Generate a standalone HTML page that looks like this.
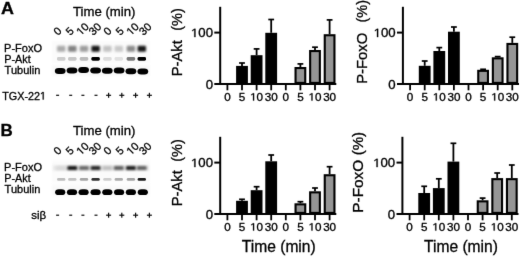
<!DOCTYPE html>
<html><head><meta charset="utf-8"><style>
html,body{margin:0;padding:0;background:#fff;}
body{width:520px;height:257px;overflow:hidden;}
svg{display:block;will-change:transform;}
text{font-family:"Liberation Sans", sans-serif;fill:#000;stroke:#000;stroke-width:0.3px;}
path{stroke:#000;stroke-width:0.3px;vector-effect:non-scaling-stroke;}
</style></head><body>
<svg width="520" height="257" viewBox="0 0 520 257">
<defs>
<filter id="bl" color-interpolation-filters="sRGB" x="-50%" y="-80%" width="200%" height="260%"><feGaussianBlur stdDeviation="0.9"/></filter>
<filter id="bl2" color-interpolation-filters="sRGB" x="-10%" y="-30%" width="120%" height="160%"><feGaussianBlur stdDeviation="1"/></filter>
<filter id="bl4" color-interpolation-filters="sRGB" x="-30%" y="-80%" width="160%" height="260%"><feGaussianBlur stdDeviation="0.5"/></filter>
<filter id="bl5" color-interpolation-filters="sRGB" x="-30%" y="-80%" width="160%" height="260%"><feGaussianBlur stdDeviation="0.85"/></filter>
<filter id="soft" color-interpolation-filters="sRGB" x="0" y="0" width="520" height="257" filterUnits="userSpaceOnUse"><feConvolveMatrix order="3" kernelMatrix="0.00524 0.06192 0.00524 0.06192 0.73137 0.06192 0.00524 0.06192 0.00524" edgeMode="duplicate"/></filter>
<filter id="bl3" color-interpolation-filters="sRGB" x="-30%" y="-60%" width="160%" height="220%"><feGaussianBlur stdDeviation="0.5"/></filter>
</defs>
<rect width="520" height="257" fill="#fff"/>
<g filter="url(#soft)">
<rect width="520" height="257" fill="#fff"/>
<text transform="translate(0.9,13.8) scale(1.12,1)" font-size="16" font-weight="bold">A</text>
<text transform="translate(0.4,135.9) scale(1.06,1)" font-size="16" font-weight="bold">B</text>
<g transform="translate(0,0)">
<text x="73" y="15.8" font-size="13.2">Time (min)</text>
<text transform="translate(58.00,36.0) rotate(-45)" font-size="11">0</text>
<text transform="translate(70.20,36.0) rotate(-45)" font-size="11">5</text>
<text transform="translate(80.90,36.0) rotate(-45)" font-size="11"> 0</text><path transform="translate(80.90,36.0) rotate(-45) translate(0.000,0.000) scale(0.005371,-0.005371)" d="M515 0L515 1237L197 1010L197 1180L530 1409L696 1409L696 0Z"/>
<text transform="translate(93.30,36.0) rotate(-45)" font-size="11">30</text>
<text transform="translate(108.00,36.0) rotate(-45)" font-size="11">0</text>
<text transform="translate(120.20,36.0) rotate(-45)" font-size="11">5</text>
<text transform="translate(131.00,36.0) rotate(-45)" font-size="11"> 0</text><path transform="translate(131.00,36.0) rotate(-45) translate(0.000,0.000) scale(0.005371,-0.005371)" d="M515 0L515 1237L197 1010L197 1180L530 1409L696 1409L696 0Z"/>
<text transform="translate(143.60,36.0) rotate(-45)" font-size="11">30</text>
<text x="4.1" y="51.5" font-size="11">P-FoxO</text>
<text x="4.3" y="62.6" font-size="10.8">P-Akt</text>
<text x="4.6" y="73.6" font-size="11">Tubulin</text>
<rect x="52" y="41" width="98" height="22" fill="#fbfbfb" filter="url(#bl2)"/>
<rect x="52" y="65" width="98" height="11" fill="#f9f9f9" filter="url(#bl2)"/>
<rect x="57.00" y="45.80" width="8.40" height="6.00" rx="1.20" fill="#ababab" filter="url(#bl)"/>
<rect x="68.10" y="45.80" width="8.40" height="6.00" rx="1.20" fill="#828282" filter="url(#bl)"/>
<rect x="79.80" y="45.80" width="8.40" height="6.00" rx="1.20" fill="#9c9c9c" filter="url(#bl)"/>
<rect x="91.40" y="45.80" width="8.40" height="6.00" rx="1.20" fill="#151515" filter="url(#bl)"/>
<rect x="103.20" y="45.80" width="8.40" height="6.00" rx="1.20" fill="#c2c2c2" filter="url(#bl)"/>
<rect x="114.60" y="45.80" width="8.40" height="6.00" rx="1.20" fill="#c9c9c9" filter="url(#bl)"/>
<rect x="126.70" y="45.80" width="8.40" height="6.00" rx="1.20" fill="#8c8c8c" filter="url(#bl)"/>
<rect x="137.60" y="45.80" width="8.40" height="6.00" rx="1.20" fill="#181818" filter="url(#bl)"/>
<rect x="57.00" y="56.90" width="8.40" height="3.80" rx="1.40" fill="#cdcdcd" filter="url(#bl4)"/>
<rect x="68.10" y="56.90" width="8.40" height="3.80" rx="1.40" fill="#c6c6c6" filter="url(#bl4)"/>
<rect x="79.80" y="56.90" width="8.40" height="3.80" rx="1.40" fill="#bcbcbc" filter="url(#bl4)"/>
<rect x="91.40" y="56.90" width="8.40" height="3.80" rx="1.40" fill="#000" filter="url(#bl4)"/>
<rect x="103.20" y="56.90" width="8.40" height="3.80" rx="1.40" fill="#dcdcdc" filter="url(#bl4)"/>
<rect x="114.60" y="56.90" width="8.40" height="3.80" rx="1.40" fill="#e2e2e2" filter="url(#bl4)"/>
<rect x="126.70" y="56.90" width="8.40" height="3.80" rx="1.40" fill="#7a7a7a" filter="url(#bl4)"/>
<rect x="137.60" y="56.90" width="8.40" height="3.80" rx="1.40" fill="#000" filter="url(#bl4)"/>
<rect x="54.80" y="67.90" width="10.80" height="6.00" rx="3.8" ry="3.00" fill="#000" filter="url(#bl3)"/>
<rect x="66.60" y="67.50" width="10.80" height="6.00" rx="3.8" ry="3.00" fill="#000" filter="url(#bl3)"/>
<rect x="78.20" y="67.10" width="10.80" height="6.00" rx="3.8" ry="3.00" fill="#000" filter="url(#bl3)"/>
<rect x="90.20" y="67.50" width="10.80" height="6.00" rx="3.8" ry="3.00" fill="#000" filter="url(#bl3)"/>
<rect x="101.90" y="67.70" width="10.80" height="6.00" rx="3.8" ry="3.00" fill="#000" filter="url(#bl3)"/>
<rect x="113.70" y="67.60" width="10.80" height="6.00" rx="3.8" ry="3.00" fill="#000" filter="url(#bl3)"/>
<rect x="125.50" y="68.30" width="10.80" height="6.00" rx="3.8" ry="3.00" fill="#000" filter="url(#bl3)"/>
<rect x="137.40" y="68.60" width="10.80" height="6.00" rx="3.8" ry="3.00" fill="#000" filter="url(#bl3)"/>
</g>
<text x="2.20" y="99.50" font-size="10.8">TGX-22 </text><path transform="translate(39.997,99.500) scale(0.005273,-0.005273)" d="M515 0L515 1237L197 1010L197 1180L530 1409L696 1409L696 0Z"/>
<rect x="56.10" y="94.70" width="3" height="1.2" fill="#111"/>
<rect x="69.20" y="94.70" width="3" height="1.2" fill="#111"/>
<rect x="81.40" y="94.70" width="3" height="1.2" fill="#111"/>
<rect x="94.50" y="94.70" width="3" height="1.2" fill="#111"/>
<rect x="106.10" y="94.70" width="5.0" height="1.2" fill="#111"/>
<rect x="108.00" y="92.80" width="1.2" height="5.0" fill="#111"/>
<rect x="119.30" y="94.70" width="5.0" height="1.2" fill="#111"/>
<rect x="121.20" y="92.80" width="1.2" height="5.0" fill="#111"/>
<rect x="133.10" y="94.70" width="5.0" height="1.2" fill="#111"/>
<rect x="135.00" y="92.80" width="1.2" height="5.0" fill="#111"/>
<rect x="146.90" y="94.70" width="5.0" height="1.2" fill="#111"/>
<rect x="148.80" y="92.80" width="1.2" height="5.0" fill="#111"/>
<g transform="translate(0,119.6)">
<text x="73" y="15.8" font-size="13.2">Time (min)</text>
<text transform="translate(58.00,36.0) rotate(-45)" font-size="11">0</text>
<text transform="translate(70.20,36.0) rotate(-45)" font-size="11">5</text>
<text transform="translate(80.90,36.0) rotate(-45)" font-size="11"> 0</text><path transform="translate(80.90,36.0) rotate(-45) translate(0.000,0.000) scale(0.005371,-0.005371)" d="M515 0L515 1237L197 1010L197 1180L530 1409L696 1409L696 0Z"/>
<text transform="translate(93.30,36.0) rotate(-45)" font-size="11">30</text>
<text transform="translate(108.00,36.0) rotate(-45)" font-size="11">0</text>
<text transform="translate(120.20,36.0) rotate(-45)" font-size="11">5</text>
<text transform="translate(131.00,36.0) rotate(-45)" font-size="11"> 0</text><path transform="translate(131.00,36.0) rotate(-45) translate(0.000,0.000) scale(0.005371,-0.005371)" d="M515 0L515 1237L197 1010L197 1180L530 1409L696 1409L696 0Z"/>
<text transform="translate(143.60,36.0) rotate(-45)" font-size="11">30</text>
<text x="4.1" y="51.5" font-size="11">P-FoxO</text>
<text x="4.3" y="62.6" font-size="10.8">P-Akt</text>
<text x="4.6" y="73.6" font-size="11">Tubulin</text>
<rect x="52" y="41" width="98" height="22" fill="#fbfbfb" filter="url(#bl2)"/>
<rect x="52" y="65" width="98" height="11" fill="#f9f9f9" filter="url(#bl2)"/>
<rect x="53" y="45.90" width="96" height="5.00" fill="#e6e6e6" filter="url(#bl5)"/>
<rect x="56.30" y="46.30" width="9.80" height="4.20" rx="1.20" fill="#dadada" filter="url(#bl5)"/>
<rect x="67.40" y="46.30" width="9.80" height="4.20" rx="1.20" fill="#141414" filter="url(#bl5)"/>
<rect x="79.10" y="46.30" width="9.80" height="4.20" rx="1.20" fill="#686868" filter="url(#bl5)"/>
<rect x="90.70" y="46.30" width="9.80" height="4.20" rx="1.20" fill="#242424" filter="url(#bl5)"/>
<rect x="102.50" y="46.30" width="9.80" height="4.20" rx="1.20" fill="#c0c0c0" filter="url(#bl5)"/>
<rect x="113.90" y="46.30" width="9.80" height="4.20" rx="1.20" fill="#606060" filter="url(#bl5)"/>
<rect x="126.00" y="46.30" width="9.80" height="4.20" rx="1.20" fill="#1c1c1c" filter="url(#bl5)"/>
<rect x="136.90" y="46.30" width="9.80" height="4.20" rx="1.20" fill="#606060" filter="url(#bl5)"/>
<rect x="57.00" y="58.40" width="8.40" height="2.80" rx="1.40" fill="#bdbdbd" filter="url(#bl4)"/>
<rect x="68.10" y="58.40" width="8.40" height="2.80" rx="1.40" fill="#c2c2c2" filter="url(#bl4)"/>
<rect x="79.80" y="58.40" width="8.40" height="2.80" rx="1.40" fill="#a6a6a6" filter="url(#bl4)"/>
<rect x="91.40" y="58.40" width="8.40" height="2.80" rx="1.40" fill="#303030" filter="url(#bl4)"/>
<rect x="103.20" y="58.40" width="8.40" height="2.80" rx="1.40" fill="#cecece" filter="url(#bl4)"/>
<rect x="114.60" y="58.40" width="8.40" height="2.80" rx="1.40" fill="#acacac" filter="url(#bl4)"/>
<rect x="126.70" y="58.40" width="8.40" height="2.80" rx="1.40" fill="#a4a4a4" filter="url(#bl4)"/>
<rect x="137.60" y="58.40" width="8.40" height="2.80" rx="1.40" fill="#1c1c1c" filter="url(#bl4)"/>
<rect x="55.10" y="69.70" width="10.20" height="5.80" rx="3.8" ry="2.90" fill="#000" filter="url(#bl3)"/>
<rect x="66.90" y="69.70" width="10.20" height="5.80" rx="3.8" ry="2.90" fill="#000" filter="url(#bl3)"/>
<rect x="78.50" y="69.70" width="10.20" height="5.80" rx="3.8" ry="2.90" fill="#000" filter="url(#bl3)"/>
<rect x="90.50" y="69.70" width="10.20" height="5.80" rx="3.8" ry="2.90" fill="#000" filter="url(#bl3)"/>
<rect x="102.20" y="69.70" width="10.20" height="5.80" rx="3.8" ry="2.90" fill="#000" filter="url(#bl3)"/>
<rect x="114.00" y="69.70" width="10.20" height="5.80" rx="3.8" ry="2.90" fill="#000" filter="url(#bl3)"/>
<rect x="125.80" y="69.70" width="10.20" height="5.80" rx="3.8" ry="2.90" fill="#000" filter="url(#bl3)"/>
<rect x="137.70" y="69.70" width="10.20" height="5.80" rx="3.8" ry="2.90" fill="#000" filter="url(#bl3)"/>
</g>
<text x="31.20" y="219.40" font-size="11.5">siβ</text>
<rect x="56.10" y="214.60" width="3" height="1.2" fill="#111"/>
<rect x="69.20" y="214.60" width="3" height="1.2" fill="#111"/>
<rect x="81.40" y="214.60" width="3" height="1.2" fill="#111"/>
<rect x="94.50" y="214.60" width="3" height="1.2" fill="#111"/>
<rect x="106.10" y="214.60" width="5.0" height="1.2" fill="#111"/>
<rect x="108.00" y="212.70" width="1.2" height="5.0" fill="#111"/>
<rect x="119.30" y="214.60" width="5.0" height="1.2" fill="#111"/>
<rect x="121.20" y="212.70" width="1.2" height="5.0" fill="#111"/>
<rect x="133.10" y="214.60" width="5.0" height="1.2" fill="#111"/>
<rect x="135.00" y="212.70" width="1.2" height="5.0" fill="#111"/>
<rect x="146.90" y="214.60" width="5.0" height="1.2" fill="#111"/>
<rect x="148.80" y="212.70" width="1.2" height="5.0" fill="#111"/>
<g transform="translate(0,0)">
<line x1="242.00" y1="63.00" x2="242.00" y2="65.90" stroke="#000" stroke-width="1.8"/>
<line x1="239.10" y1="63.00" x2="244.90" y2="63.00" stroke="#000" stroke-width="1.7"/>
<rect x="236.10" y="65.90" width="11.80" height="18.05" fill="#000"/>
<line x1="256.60" y1="48.90" x2="256.60" y2="55.20" stroke="#000" stroke-width="1.8"/>
<line x1="253.70" y1="48.90" x2="259.50" y2="48.90" stroke="#000" stroke-width="1.7"/>
<rect x="250.70" y="55.20" width="11.80" height="28.75" fill="#000"/>
<line x1="271.20" y1="19.50" x2="271.20" y2="32.80" stroke="#000" stroke-width="1.8"/>
<line x1="268.30" y1="19.50" x2="274.10" y2="19.50" stroke="#000" stroke-width="1.7"/>
<rect x="265.30" y="32.80" width="11.80" height="51.15" fill="#000"/>
<line x1="300.40" y1="63.90" x2="300.40" y2="67.00" stroke="#000" stroke-width="1.8"/>
<line x1="297.50" y1="63.90" x2="303.30" y2="63.90" stroke="#000" stroke-width="1.7"/>
<rect x="295.55" y="68.05" width="9.70" height="14.85" fill="#959595" stroke="#000" stroke-width="2.1"/>
<line x1="315.00" y1="47.20" x2="315.00" y2="50.00" stroke="#000" stroke-width="1.8"/>
<line x1="312.10" y1="47.20" x2="317.90" y2="47.20" stroke="#000" stroke-width="1.7"/>
<rect x="310.15" y="51.05" width="9.70" height="31.85" fill="#959595" stroke="#000" stroke-width="2.1"/>
<line x1="329.60" y1="19.90" x2="329.60" y2="34.20" stroke="#000" stroke-width="1.8"/>
<line x1="326.70" y1="19.90" x2="332.50" y2="19.90" stroke="#000" stroke-width="1.7"/>
<rect x="324.75" y="35.25" width="9.70" height="47.65" fill="#959595" stroke="#000" stroke-width="2.1"/>
<line x1="220.20" y1="6.80" x2="220.20" y2="84.95" stroke="#000" stroke-width="2"/>
<line x1="214.3" y1="83.95" x2="336.30" y2="83.95" stroke="#000" stroke-width="2.1"/>
<line x1="214.3" y1="32.60" x2="220.20" y2="32.60" stroke="#000" stroke-width="2"/>
<line x1="227.40" y1="83.95" x2="227.40" y2="90.3" stroke="#000" stroke-width="1.8"/>
<line x1="242.00" y1="83.95" x2="242.00" y2="90.3" stroke="#000" stroke-width="1.8"/>
<line x1="256.60" y1="83.95" x2="256.60" y2="90.3" stroke="#000" stroke-width="1.8"/>
<line x1="271.20" y1="83.95" x2="271.20" y2="90.3" stroke="#000" stroke-width="1.8"/>
<line x1="285.80" y1="83.95" x2="285.80" y2="90.3" stroke="#000" stroke-width="1.8"/>
<line x1="300.40" y1="83.95" x2="300.40" y2="90.3" stroke="#000" stroke-width="1.8"/>
<line x1="315.00" y1="83.95" x2="315.00" y2="90.3" stroke="#000" stroke-width="1.8"/>
<line x1="329.60" y1="83.95" x2="329.60" y2="90.3" stroke="#000" stroke-width="1.8"/>
<text text-anchor="end" transform="translate(213.00,37.10) scale(1.1,1)" font-size="12"> 00</text><path transform="translate(213.00,37.10) scale(1.1,1) translate(-20.022,0.000) scale(0.005859,-0.005859)" d="M515 0L515 1237L197 1010L197 1180L530 1409L696 1409L696 0Z"/>
<text text-anchor="end" transform="translate(213.00,88.65) scale(1.1,1)" font-size="12">0</text>
<text text-anchor="middle" transform="translate(227.40,100.60) scale(1.1,1)" font-size="10.6">0</text>
<text text-anchor="middle" transform="translate(242.00,100.60) scale(1.1,1)" font-size="10.6">5</text>
<text text-anchor="middle" transform="translate(256.60,100.60) scale(1.1,1)" font-size="10.6"> 0</text><path transform="translate(256.60,100.60) scale(1.1,1) translate(-5.886,0.000) scale(0.005176,-0.005176)" d="M515 0L515 1237L197 1010L197 1180L530 1409L696 1409L696 0Z"/>
<text text-anchor="middle" transform="translate(271.20,100.60) scale(1.1,1)" font-size="10.6">30</text>
<text text-anchor="middle" transform="translate(285.80,100.60) scale(1.1,1)" font-size="10.6">0</text>
<text text-anchor="middle" transform="translate(300.40,100.60) scale(1.1,1)" font-size="10.6">5</text>
<text text-anchor="middle" transform="translate(315.00,100.60) scale(1.1,1)" font-size="10.6"> 0</text><path transform="translate(315.00,100.60) scale(1.1,1) translate(-5.886,0.000) scale(0.005176,-0.005176)" d="M515 0L515 1237L197 1010L197 1180L530 1409L696 1409L696 0Z"/>
<text text-anchor="middle" transform="translate(329.60,100.60) scale(1.1,1)" font-size="10.6">30</text>
<text transform="translate(181.80,76.30) rotate(-90) scale(1.0,1)" font-size="14.8">P-Akt</text>
<text transform="translate(182.10,30.80) rotate(-90) scale(1.0,1)" font-size="14.5">(%)</text>
</g>
<g transform="translate(182.7,0)">
<line x1="242.00" y1="61.00" x2="242.00" y2="65.80" stroke="#000" stroke-width="1.8"/>
<line x1="239.10" y1="61.00" x2="244.90" y2="61.00" stroke="#000" stroke-width="1.7"/>
<rect x="236.10" y="65.80" width="11.80" height="18.15" fill="#000"/>
<line x1="256.60" y1="47.60" x2="256.60" y2="51.00" stroke="#000" stroke-width="1.8"/>
<line x1="253.70" y1="47.60" x2="259.50" y2="47.60" stroke="#000" stroke-width="1.7"/>
<rect x="250.70" y="51.00" width="11.80" height="32.95" fill="#000"/>
<line x1="271.20" y1="27.00" x2="271.20" y2="31.70" stroke="#000" stroke-width="1.8"/>
<line x1="268.30" y1="27.00" x2="274.10" y2="27.00" stroke="#000" stroke-width="1.7"/>
<rect x="265.30" y="31.70" width="11.80" height="52.25" fill="#000"/>
<line x1="300.40" y1="69.30" x2="300.40" y2="69.80" stroke="#000" stroke-width="1.8"/>
<line x1="297.50" y1="69.30" x2="303.30" y2="69.30" stroke="#000" stroke-width="1.7"/>
<rect x="295.55" y="70.85" width="9.70" height="12.05" fill="#959595" stroke="#000" stroke-width="2.1"/>
<line x1="315.00" y1="56.60" x2="315.00" y2="57.30" stroke="#000" stroke-width="1.8"/>
<line x1="312.10" y1="56.60" x2="317.90" y2="56.60" stroke="#000" stroke-width="1.7"/>
<rect x="310.15" y="58.35" width="9.70" height="24.55" fill="#959595" stroke="#000" stroke-width="2.1"/>
<line x1="329.60" y1="37.20" x2="329.60" y2="42.90" stroke="#000" stroke-width="1.8"/>
<line x1="326.70" y1="37.20" x2="332.50" y2="37.20" stroke="#000" stroke-width="1.7"/>
<rect x="324.75" y="43.95" width="9.70" height="38.95" fill="#959595" stroke="#000" stroke-width="2.1"/>
<line x1="220.20" y1="6.80" x2="220.20" y2="84.95" stroke="#000" stroke-width="2"/>
<line x1="214.3" y1="83.95" x2="336.30" y2="83.95" stroke="#000" stroke-width="2.1"/>
<line x1="214.3" y1="32.60" x2="220.20" y2="32.60" stroke="#000" stroke-width="2"/>
<line x1="227.40" y1="83.95" x2="227.40" y2="90.3" stroke="#000" stroke-width="1.8"/>
<line x1="242.00" y1="83.95" x2="242.00" y2="90.3" stroke="#000" stroke-width="1.8"/>
<line x1="256.60" y1="83.95" x2="256.60" y2="90.3" stroke="#000" stroke-width="1.8"/>
<line x1="271.20" y1="83.95" x2="271.20" y2="90.3" stroke="#000" stroke-width="1.8"/>
<line x1="285.80" y1="83.95" x2="285.80" y2="90.3" stroke="#000" stroke-width="1.8"/>
<line x1="300.40" y1="83.95" x2="300.40" y2="90.3" stroke="#000" stroke-width="1.8"/>
<line x1="315.00" y1="83.95" x2="315.00" y2="90.3" stroke="#000" stroke-width="1.8"/>
<line x1="329.60" y1="83.95" x2="329.60" y2="90.3" stroke="#000" stroke-width="1.8"/>
<text text-anchor="end" transform="translate(213.00,37.10) scale(1.1,1)" font-size="12"> 00</text><path transform="translate(213.00,37.10) scale(1.1,1) translate(-20.022,0.000) scale(0.005859,-0.005859)" d="M515 0L515 1237L197 1010L197 1180L530 1409L696 1409L696 0Z"/>
<text text-anchor="end" transform="translate(213.00,88.65) scale(1.1,1)" font-size="12">0</text>
<text text-anchor="middle" transform="translate(227.40,100.60) scale(1.1,1)" font-size="10.6">0</text>
<text text-anchor="middle" transform="translate(242.00,100.60) scale(1.1,1)" font-size="10.6">5</text>
<text text-anchor="middle" transform="translate(256.60,100.60) scale(1.1,1)" font-size="10.6"> 0</text><path transform="translate(256.60,100.60) scale(1.1,1) translate(-5.886,0.000) scale(0.005176,-0.005176)" d="M515 0L515 1237L197 1010L197 1180L530 1409L696 1409L696 0Z"/>
<text text-anchor="middle" transform="translate(271.20,100.60) scale(1.1,1)" font-size="10.6">30</text>
<text text-anchor="middle" transform="translate(285.80,100.60) scale(1.1,1)" font-size="10.6">0</text>
<text text-anchor="middle" transform="translate(300.40,100.60) scale(1.1,1)" font-size="10.6">5</text>
<text text-anchor="middle" transform="translate(315.00,100.60) scale(1.1,1)" font-size="10.6"> 0</text><path transform="translate(315.00,100.60) scale(1.1,1) translate(-5.886,0.000) scale(0.005176,-0.005176)" d="M515 0L515 1237L197 1010L197 1180L530 1409L696 1409L696 0Z"/>
<text text-anchor="middle" transform="translate(329.60,100.60) scale(1.1,1)" font-size="10.6">30</text>
<text transform="translate(184.30,83.80) rotate(-90) scale(1.0,1)" font-size="14.8">P-FoxO</text>
<text transform="translate(183.80,22.50) rotate(-90) scale(1.0,1)" font-size="14.5">(%)</text>
</g>
<g transform="translate(0,130)">
<line x1="242.00" y1="69.30" x2="242.00" y2="70.80" stroke="#000" stroke-width="1.8"/>
<line x1="239.10" y1="69.30" x2="244.90" y2="69.30" stroke="#000" stroke-width="1.7"/>
<rect x="236.10" y="70.80" width="11.80" height="13.15" fill="#000"/>
<line x1="256.60" y1="56.70" x2="256.60" y2="60.20" stroke="#000" stroke-width="1.8"/>
<line x1="253.70" y1="56.70" x2="259.50" y2="56.70" stroke="#000" stroke-width="1.7"/>
<rect x="250.70" y="60.20" width="11.80" height="23.75" fill="#000"/>
<line x1="271.20" y1="25.00" x2="271.20" y2="31.30" stroke="#000" stroke-width="1.8"/>
<line x1="268.30" y1="25.00" x2="274.10" y2="25.00" stroke="#000" stroke-width="1.7"/>
<rect x="265.30" y="31.30" width="11.80" height="52.65" fill="#000"/>
<line x1="300.40" y1="71.70" x2="300.40" y2="73.30" stroke="#000" stroke-width="1.8"/>
<line x1="297.50" y1="71.70" x2="303.30" y2="71.70" stroke="#000" stroke-width="1.7"/>
<rect x="295.55" y="74.35" width="9.70" height="8.55" fill="#959595" stroke="#000" stroke-width="2.1"/>
<line x1="315.00" y1="58.00" x2="315.00" y2="61.30" stroke="#000" stroke-width="1.8"/>
<line x1="312.10" y1="58.00" x2="317.90" y2="58.00" stroke="#000" stroke-width="1.7"/>
<rect x="310.15" y="62.35" width="9.70" height="20.55" fill="#959595" stroke="#000" stroke-width="2.1"/>
<line x1="329.60" y1="36.70" x2="329.60" y2="44.20" stroke="#000" stroke-width="1.8"/>
<line x1="326.70" y1="36.70" x2="332.50" y2="36.70" stroke="#000" stroke-width="1.7"/>
<rect x="324.75" y="45.25" width="9.70" height="37.65" fill="#959595" stroke="#000" stroke-width="2.1"/>
<line x1="220.20" y1="6.80" x2="220.20" y2="84.95" stroke="#000" stroke-width="2"/>
<line x1="214.3" y1="83.95" x2="336.30" y2="83.95" stroke="#000" stroke-width="2.1"/>
<line x1="214.3" y1="32.60" x2="220.20" y2="32.60" stroke="#000" stroke-width="2"/>
<line x1="227.40" y1="83.95" x2="227.40" y2="90.3" stroke="#000" stroke-width="1.8"/>
<line x1="242.00" y1="83.95" x2="242.00" y2="90.3" stroke="#000" stroke-width="1.8"/>
<line x1="256.60" y1="83.95" x2="256.60" y2="90.3" stroke="#000" stroke-width="1.8"/>
<line x1="271.20" y1="83.95" x2="271.20" y2="90.3" stroke="#000" stroke-width="1.8"/>
<line x1="285.80" y1="83.95" x2="285.80" y2="90.3" stroke="#000" stroke-width="1.8"/>
<line x1="300.40" y1="83.95" x2="300.40" y2="90.3" stroke="#000" stroke-width="1.8"/>
<line x1="315.00" y1="83.95" x2="315.00" y2="90.3" stroke="#000" stroke-width="1.8"/>
<line x1="329.60" y1="83.95" x2="329.60" y2="90.3" stroke="#000" stroke-width="1.8"/>
<text text-anchor="end" transform="translate(213.00,37.10) scale(1.1,1)" font-size="12"> 00</text><path transform="translate(213.00,37.10) scale(1.1,1) translate(-20.022,0.000) scale(0.005859,-0.005859)" d="M515 0L515 1237L197 1010L197 1180L530 1409L696 1409L696 0Z"/>
<text text-anchor="end" transform="translate(213.00,88.65) scale(1.1,1)" font-size="12">0</text>
<text text-anchor="middle" transform="translate(227.40,100.60) scale(1.1,1)" font-size="10.6">0</text>
<text text-anchor="middle" transform="translate(242.00,100.60) scale(1.1,1)" font-size="10.6">5</text>
<text text-anchor="middle" transform="translate(256.60,100.60) scale(1.1,1)" font-size="10.6"> 0</text><path transform="translate(256.60,100.60) scale(1.1,1) translate(-5.886,0.000) scale(0.005176,-0.005176)" d="M515 0L515 1237L197 1010L197 1180L530 1409L696 1409L696 0Z"/>
<text text-anchor="middle" transform="translate(271.20,100.60) scale(1.1,1)" font-size="10.6">30</text>
<text text-anchor="middle" transform="translate(285.80,100.60) scale(1.1,1)" font-size="10.6">0</text>
<text text-anchor="middle" transform="translate(300.40,100.60) scale(1.1,1)" font-size="10.6">5</text>
<text text-anchor="middle" transform="translate(315.00,100.60) scale(1.1,1)" font-size="10.6"> 0</text><path transform="translate(315.00,100.60) scale(1.1,1) translate(-5.886,0.000) scale(0.005176,-0.005176)" d="M515 0L515 1237L197 1010L197 1180L530 1409L696 1409L696 0Z"/>
<text text-anchor="middle" transform="translate(329.60,100.60) scale(1.1,1)" font-size="10.6">30</text>
<text transform="translate(181.80,76.30) rotate(-90) scale(1.0,1)" font-size="14.8">P-Akt</text>
<text transform="translate(182.10,31.80) rotate(-90) scale(1.0,1)" font-size="14.5">(%)</text>
<text x="278.75" y="122.40" font-size="15.6" text-anchor="middle">Time (min)</text>
</g>
<g transform="translate(182.2,130)">
<line x1="242.00" y1="56.30" x2="242.00" y2="63.00" stroke="#000" stroke-width="1.8"/>
<line x1="239.10" y1="56.30" x2="244.90" y2="56.30" stroke="#000" stroke-width="1.7"/>
<rect x="236.10" y="63.00" width="11.80" height="20.95" fill="#000"/>
<line x1="256.60" y1="48.80" x2="256.60" y2="58.10" stroke="#000" stroke-width="1.8"/>
<line x1="253.70" y1="48.80" x2="259.50" y2="48.80" stroke="#000" stroke-width="1.7"/>
<rect x="250.70" y="58.10" width="11.80" height="25.85" fill="#000"/>
<line x1="271.20" y1="13.30" x2="271.20" y2="31.60" stroke="#000" stroke-width="1.8"/>
<line x1="268.30" y1="13.30" x2="274.10" y2="13.30" stroke="#000" stroke-width="1.7"/>
<rect x="265.30" y="31.60" width="11.80" height="52.35" fill="#000"/>
<line x1="300.40" y1="68.10" x2="300.40" y2="70.30" stroke="#000" stroke-width="1.8"/>
<line x1="297.50" y1="68.10" x2="303.30" y2="68.10" stroke="#000" stroke-width="1.7"/>
<rect x="295.55" y="71.35" width="9.70" height="11.55" fill="#959595" stroke="#000" stroke-width="2.1"/>
<line x1="315.00" y1="43.00" x2="315.00" y2="48.10" stroke="#000" stroke-width="1.8"/>
<line x1="312.10" y1="43.00" x2="317.90" y2="43.00" stroke="#000" stroke-width="1.7"/>
<rect x="310.15" y="49.15" width="9.70" height="33.75" fill="#959595" stroke="#000" stroke-width="2.1"/>
<line x1="329.60" y1="35.00" x2="329.60" y2="48.10" stroke="#000" stroke-width="1.8"/>
<line x1="326.70" y1="35.00" x2="332.50" y2="35.00" stroke="#000" stroke-width="1.7"/>
<rect x="324.75" y="49.15" width="9.70" height="33.75" fill="#959595" stroke="#000" stroke-width="2.1"/>
<line x1="220.20" y1="6.80" x2="220.20" y2="84.95" stroke="#000" stroke-width="2"/>
<line x1="214.3" y1="83.95" x2="336.30" y2="83.95" stroke="#000" stroke-width="2.1"/>
<line x1="214.3" y1="32.60" x2="220.20" y2="32.60" stroke="#000" stroke-width="2"/>
<line x1="227.40" y1="83.95" x2="227.40" y2="90.3" stroke="#000" stroke-width="1.8"/>
<line x1="242.00" y1="83.95" x2="242.00" y2="90.3" stroke="#000" stroke-width="1.8"/>
<line x1="256.60" y1="83.95" x2="256.60" y2="90.3" stroke="#000" stroke-width="1.8"/>
<line x1="271.20" y1="83.95" x2="271.20" y2="90.3" stroke="#000" stroke-width="1.8"/>
<line x1="285.80" y1="83.95" x2="285.80" y2="90.3" stroke="#000" stroke-width="1.8"/>
<line x1="300.40" y1="83.95" x2="300.40" y2="90.3" stroke="#000" stroke-width="1.8"/>
<line x1="315.00" y1="83.95" x2="315.00" y2="90.3" stroke="#000" stroke-width="1.8"/>
<line x1="329.60" y1="83.95" x2="329.60" y2="90.3" stroke="#000" stroke-width="1.8"/>
<text text-anchor="end" transform="translate(213.00,37.10) scale(1.1,1)" font-size="12"> 00</text><path transform="translate(213.00,37.10) scale(1.1,1) translate(-20.022,0.000) scale(0.005859,-0.005859)" d="M515 0L515 1237L197 1010L197 1180L530 1409L696 1409L696 0Z"/>
<text text-anchor="end" transform="translate(213.00,88.65) scale(1.1,1)" font-size="12">0</text>
<text text-anchor="middle" transform="translate(227.40,100.60) scale(1.1,1)" font-size="10.6">0</text>
<text text-anchor="middle" transform="translate(242.00,100.60) scale(1.1,1)" font-size="10.6">5</text>
<text text-anchor="middle" transform="translate(256.60,100.60) scale(1.1,1)" font-size="10.6"> 0</text><path transform="translate(256.60,100.60) scale(1.1,1) translate(-5.886,0.000) scale(0.005176,-0.005176)" d="M515 0L515 1237L197 1010L197 1180L530 1409L696 1409L696 0Z"/>
<text text-anchor="middle" transform="translate(271.20,100.60) scale(1.1,1)" font-size="10.6">30</text>
<text text-anchor="middle" transform="translate(285.80,100.60) scale(1.1,1)" font-size="10.6">0</text>
<text text-anchor="middle" transform="translate(300.40,100.60) scale(1.1,1)" font-size="10.6">5</text>
<text text-anchor="middle" transform="translate(315.00,100.60) scale(1.1,1)" font-size="10.6"> 0</text><path transform="translate(315.00,100.60) scale(1.1,1) translate(-5.886,0.000) scale(0.005176,-0.005176)" d="M515 0L515 1237L197 1010L197 1180L530 1409L696 1409L696 0Z"/>
<text text-anchor="middle" transform="translate(329.60,100.60) scale(1.1,1)" font-size="10.6">30</text>
<text transform="translate(180.60,82.70) rotate(-90) scale(1.04,1)" font-size="14.8">P-FoxO</text>
<text transform="translate(181.00,25.30) rotate(-90) scale(1.04,1)" font-size="14.5">(%)</text>
<text x="278.75" y="122.40" font-size="15.6" text-anchor="middle">Time (min)</text>
</g>
</g>
</svg>
</body></html>
